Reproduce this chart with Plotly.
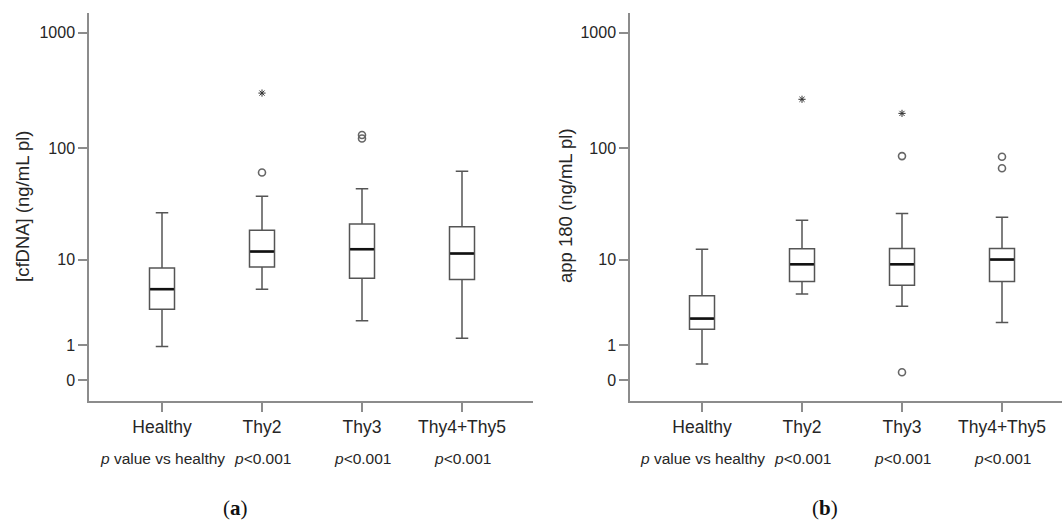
import numpy as np
import plotly.graph_objects as go

# ---------------- data ----------------
categories = ["Healthy", "Thy2", "Thy3", "Thy4+Thy5"]
p_labels = ["<i>p</i> value vs healthy", "<i>p</i><0.001", "<i>p</i><0.001", "<i>p</i><0.001"]

# panel (a): [cfDNA]
a_lower = [0.95, 5.1, 2.25, 1.3]
a_q1 = [3.1, 8.5, 6.6, 6.4]
a_median = [5.1, 11.9, 12.5, 11.4]
a_q3 = [8.3, 18.7, 21.3, 20.1]
a_upper = [26.9, 37.7, 44.0, 62.5]
a_out_circle_cat = ["Thy2", "Thy3", "Thy3"]
a_out_circle_val = [61.0, 121.0, 130.0]
a_out_star_cat = ["Thy2"]
a_out_star_val = [300.0]

# panel (b): app 180
b_lower = [0.38, 4.55, 3.35, 2.15]
b_q1 = [1.75, 6.1, 5.6, 6.1]
b_median = [2.4, 9.0, 9.0, 10.0]
b_q3 = [4.35, 12.6, 12.7, 12.7]
b_upper = [12.5, 23.0, 26.5, 24.5]
b_out_circle_cat = ["Thy3", "Thy3", "Thy4+Thy5", "Thy4+Thy5"]
b_out_circle_val = [85.0, 0.17, 84.0, 66.5]
b_out_star_cat = ["Thy2", "Thy3"]
b_out_star_val = [265.0, 200.0]

tick_values = [0, 1, 10, 100, 1000]
tick_labels = ["0", "1", "10", "100", "1000"]


def slog(v):
    # SPSS "safe log" scale
    return np.log10(1.0 + np.asarray(v, dtype=float))


FONT = "Liberation Sans, Arial, sans-serif"
BOXC = "#555555"
AXC = "#8c8c8c"
TXT = "#262626"

fig = go.Figure()

panels = [
    dict(lo=a_lower, q1=a_q1, me=a_median, q3=a_q3, up=a_upper,
         cc=a_out_circle_cat, cv=a_out_circle_val, sc=a_out_star_cat, sv=a_out_star_val,
         xa="x", ya="y"),
    dict(lo=b_lower, q1=b_q1, me=b_median, q3=b_q3, up=b_upper,
         cc=b_out_circle_cat, cv=b_out_circle_val, sc=b_out_star_cat, sv=b_out_star_val,
         xa="x2", ya="y2"),
]

for p in panels:
    fig.add_trace(go.Box(
        x=categories, q1=slog(p["q1"]), median=slog(p["me"]), q3=slog(p["q3"]),
        lowerfence=slog(p["lo"]), upperfence=slog(p["up"]),
        boxpoints=False, width=0.25, whiskerwidth=0.5,
        line=dict(color=BOXC, width=1.5), fillcolor="white",
        xaxis=p["xa"], yaxis=p["ya"], showlegend=False, hoverinfo="skip"))
    fig.add_trace(go.Scatter(
        x=categories, y=slog(p["me"]), mode="markers",
        marker=dict(symbol="line-ew", size=17, line=dict(color="#111111", width=2.6)),
        xaxis=p["xa"], yaxis=p["ya"], showlegend=False, hoverinfo="skip"))
    fig.add_trace(go.Scatter(
        x=p["cc"], y=slog(p["cv"]), mode="markers",
        marker=dict(symbol="circle-open", size=7, color="#666666", line=dict(width=1.6)),
        xaxis=p["xa"], yaxis=p["ya"], showlegend=False, hoverinfo="skip"))
    fig.add_trace(go.Scatter(
        x=p["sc"], y=slog(p["sv"]), mode="markers",
        marker=dict(symbol="asterisk-open", size=6, color="#333333", line=dict(width=1.0, color="#333333")),
        xaxis=p["xa"], yaxis=p["ya"], showlegend=False, hoverinfo="skip"))

W, H = 1064, 525
y_top, y_bot = 13, 401
ydom = [1 - y_bot / H, 1 - y_top / H]
yr = [-0.18, 3.17]

common_x = dict(type="category", showline=True, linecolor=AXC, linewidth=1.5,
                ticks="outside", ticklen=9, tickcolor=AXC, tickwidth=1.5,
                showgrid=False, zeroline=False,
                tickfont=dict(family=FONT, size=17.5, color=TXT),
                ticklabelstandoff=0)
common_y = dict(range=yr, domain=ydom, showline=True, linecolor=AXC, linewidth=1.5,
                ticks="outside", ticklen=9, tickcolor=AXC, tickwidth=1.5,
                showgrid=False, zeroline=False,
                tickvals=slog(tick_values), ticktext=tick_labels,
                tickfont=dict(family=FONT, size=16, color=TXT))

fig.update_layout(
    width=W, height=H, margin=dict(l=0, r=0, t=0, b=0),
    paper_bgcolor="white", plot_bgcolor="white",
    xaxis=dict(common_x, domain=[89 / W, 533 / W], range=[-0.73, 3.71], anchor="y"),
    yaxis=dict(common_y, anchor="x"),
    xaxis2=dict(common_x, domain=[630 / W, 1062 / W], range=[-0.72, 3.6], anchor="y2"),
    yaxis2=dict(common_y, anchor="x2"),
)

annotations = []
annotations.append(dict(text="[cfDNA] (ng/mL pl)", x=22 / W, y=1 - 207 / H, xref="paper", yref="paper",
                        textangle=-90, showarrow=False, font=dict(family=FONT, size=18.5, color=TXT),
                        xanchor="center", yanchor="middle"))
annotations.append(dict(text="app 180 (ng/mL pl)", x=565 / W, y=1 - 206 / H, xref="paper", yref="paper",
                        textangle=-90, showarrow=False, font=dict(family=FONT, size=18.5, color=TXT),
                        xanchor="center", yanchor="middle"))
for xa in ("x", "x2"):
    for c, t in zip(categories, p_labels):
        annotations.append(dict(text=t, x=c, xref=xa, y=1 - 458 / H, yref="paper",
                                showarrow=False, xanchor="center", yanchor="middle",
                                font=dict(family=FONT, size=15.5, color=TXT)))
annotations.append(dict(text="(<b>a</b>)", x=235 / W, y=1 - 508 / H, xref="paper", yref="paper",
                        showarrow=False, font=dict(family="Liberation Serif, serif", size=21, color="#111111"),
                        xanchor="center", yanchor="middle"))
annotations.append(dict(text="(<b>b</b>)", x=825 / W, y=1 - 508 / H, xref="paper", yref="paper",
                        showarrow=False, font=dict(family="Liberation Serif, serif", size=21, color="#111111"),
                        xanchor="center", yanchor="middle"))
fig.update_layout(annotations=annotations)

fig.write_html("out.html")
